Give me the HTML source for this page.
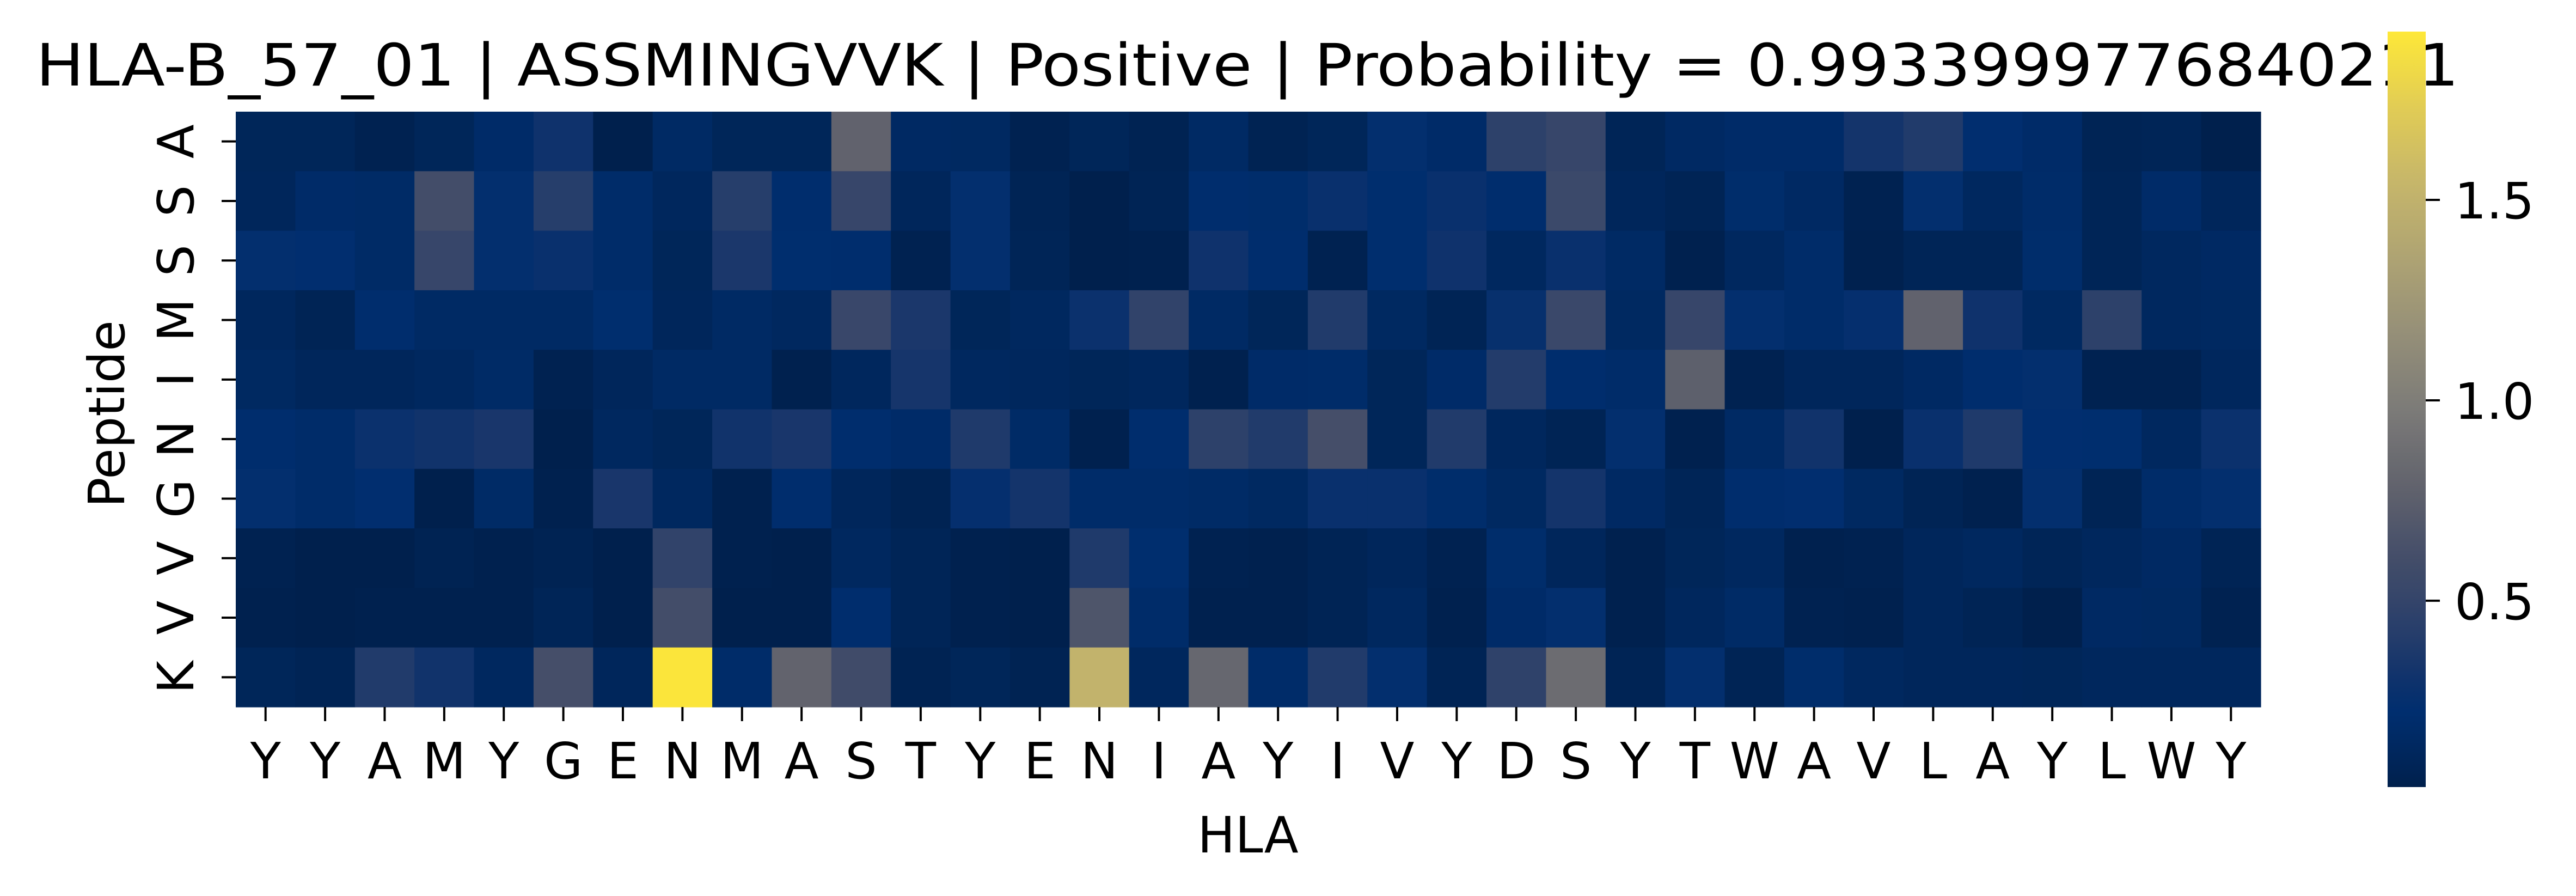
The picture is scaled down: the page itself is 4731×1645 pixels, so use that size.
<!DOCTYPE html>
<html><head><meta charset="utf-8"><style>
html,body{margin:0;padding:0;background:#fff;}
svg{display:block;}
text{font-family:"DejaVu Sans","Liberation Sans",sans-serif;fill:#000;}
</style></head><body>
<svg id="chart" width="4731" height="1645" viewBox="0 0 4731 1645" xmlns="http://www.w3.org/2000/svg">
<defs><linearGradient id="cbgrad" x1="0" y1="1" x2="0" y2="0"></linearGradient></defs>
<text x="2291" y="157" font-size="107" text-anchor="middle" textLength="4450" lengthAdjust="spacingAndGlyphs">HLA-B_57_01 | ASSMINGVVK | Positive | Probability = 0.9933999776840211</text>
<g id="cells"></g>
<g id="xaxis"></g>
<g id="yaxis"></g>
<text x="2292" y="1565" font-size="92" text-anchor="middle">HLA</text>
<text transform="translate(228,760) rotate(-90)" font-size="92" text-anchor="middle">Peptide</text>
<rect x="4385" y="58" width="70" height="1387" fill="url(#cbgrad)"/>
<g id="cbaxis"></g>
</svg>
<script>
const xLabels = ["Y","Y","A","M","Y","G","E","N","M","A","S","T","Y","E","N","I","A","Y","I","V","Y","D","S","Y","T","W","A","V","L","A","Y","L","W","Y"];
const yLabels = ["A","S","S","M","I","N","G","V","V","K"];
const rowA = [0.10,0.10,0.06,0.10,0.18,0.30,0.04,0.16,0.10,0.10,0.78,0.15, 0.14,0.06,0.10,0.07,0.16,0.07,0.10,0.24,0.18,0.46,0.52,0.09, 0.15,0.18,0.18,0.33,0.39,0.23,0.18,0.08,0.09,0.04];
const rowS1 = [0.11,0.18,0.17,0.60,0.24,0.42,0.19,0.12,0.42,0.21,0.52,0.11, 0.24,0.08,0.04,0.08,0.21,0.20,0.27,0.22,0.27,0.21,0.55,0.11, 0.08,0.20,0.15,0.06,0.24,0.13,0.19,0.09,0.18,0.11];
const rowS2 = [0.24,0.23,0.17,0.52,0.24,0.27,0.19,0.10,0.36,0.22,0.21,0.06, 0.24,0.09,0.04,0.05,0.30,0.21,0.06,0.22,0.30,0.13,0.27,0.16, 0.05,0.13,0.19,0.05,0.09,0.09,0.20,0.09,0.13,0.15];
const rowM = [0.12,0.08,0.21,0.16,0.16,0.16,0.22,0.11,0.16,0.13,0.53,0.36, 0.10,0.13,0.28,0.48,0.16,0.10,0.39,0.14,0.08,0.26,0.54,0.14, 0.52,0.24,0.19,0.25,0.78,0.30,0.14,0.46,0.13,0.14];
const rowI = [0.14,0.11,0.11,0.13,0.17,0.06,0.11,0.16,0.16,0.05,0.12,0.34, 0.13,0.12,0.10,0.12,0.05,0.18,0.19,0.10,0.18,0.40,0.21,0.19, 0.76,0.06,0.11,0.11,0.15,0.21,0.24,0.06,0.06,0.12];
const rowN = [0.21,0.19,0.28,0.31,0.35,0.04,0.13,0.10,0.31,0.35,0.21,0.18, 0.38,0.17,0.05,0.21,0.46,0.39,0.61,0.10,0.39,0.12,0.08,0.24, 0.05,0.16,0.31,0.04,0.27,0.38,0.23,0.22,0.13,0.28];
const rowG = [0.24,0.19,0.23,0.04,0.17,0.05,0.35,0.13,0.05,0.21,0.11,0.07, 0.25,0.33,0.19,0.19,0.17,0.14,0.27,0.27,0.20,0.14,0.33,0.15, 0.09,0.21,0.23,0.14,0.08,0.05,0.24,0.08,0.19,0.24];
const rowV1 = [0.06,0.04,0.04,0.07,0.05,0.07,0.04,0.48,0.05,0.04,0.13,0.09, 0.05,0.04,0.38,0.22,0.06,0.05,0.08,0.11,0.06,0.20,0.11,0.05, 0.10,0.13,0.05,0.06,0.11,0.13,0.09,0.12,0.15,0.08];
const rowV2 = [0.05,0.04,0.05,0.05,0.05,0.09,0.04,0.60,0.04,0.04,0.21,0.09, 0.05,0.04,0.67,0.19,0.05,0.05,0.08,0.13,0.05,0.18,0.24,0.05, 0.12,0.17,0.06,0.05,0.11,0.08,0.04,0.15,0.14,0.06];
const rowK = [0.10,0.08,0.39,0.31,0.13,0.61,0.11,1.90,0.19,0.79,0.58,0.07, 0.10,0.07,1.51,0.12,0.82,0.19,0.39,0.24,0.08,0.47,0.86,0.08, 0.24,0.08,0.20,0.13,0.11,0.11,0.10,0.12,0.12,0.12];
const cbTicks = [0.5,1.0,1.5];
const cbTickLabels = ["0.5","1.0","1.5"];

const rows = [rowA,rowS1,rowS2,rowM,rowI,rowN,rowG,rowV1,rowV2,rowK];
const NS = "http://www.w3.org/2000/svg";
const X0=433, X1=4152, Y0=205, Y1=1298;
const VMIN=0.035, VMAX=1.92;
const CBY0=58, CBY1=1445, CBX=4385, CBW=70;
const cw=(X1-X0)/xLabels.length, rh=(Y1-Y0)/yLabels.length;
const xPos = i => X0 + i*cw;
const yPos = j => Y0 + j*rh;
const cbY = v => CBY1 - (v-VMIN)/(VMAX-VMIN)*(CBY1-CBY0);
const anchors = [[0,"#00204c"],[0.05,"#00285f"],[0.1,"#002e6f"],[0.15,"#12336b"],[0.2,"#253d6b"],[0.25,"#35456a"],[0.3,"#434d69"],[0.4,"#62636d"],[0.5,"#7c7b78"],[0.6,"#958f78"],[0.7,"#aea373"],[0.8,"#c6b66a"],[0.9,"#e1cc55"],[1.0,"#fee838"]];
function hex(h){return [parseInt(h.substr(1,2),16),parseInt(h.substr(3,2),16),parseInt(h.substr(5,2),16)];}
function cmap(t){
  t=Math.max(0,Math.min(1,t));
  for(let k=1;k<anchors.length;k++){
    if(t<=anchors[k][0]){
      const a=anchors[k-1],b=anchors[k];const f=(t-a[0])/(b[0]-a[0]);
      const ca=hex(a[1]),cb=hex(b[1]);
      return "rgb("+ca.map((c,i)=>Math.round(c+(cb[i]-c)*f)).join(",")+")";
    }
  }
  return anchors[anchors.length-1][1];
}
const color = v => cmap((v-VMIN)/(VMAX-VMIN));

const cells=document.getElementById("cells");
rows.forEach((row,j)=>row.forEach((v,i)=>{
  const r=document.createElementNS(NS,"rect");
  r.setAttribute("x",xPos(i));r.setAttribute("y",yPos(j));
  r.setAttribute("width",cw+0.6);r.setAttribute("height",rh+0.6);
  r.setAttribute("fill",color(v));
  
  
  cells.appendChild(r);
}));

const xa=document.getElementById("xaxis");
xLabels.forEach((lab,i)=>{
  const cx=xPos(i)+cw/2;
  const l=document.createElementNS(NS,"line");
  l.setAttribute("x1",cx);l.setAttribute("x2",cx);l.setAttribute("y1",Y1);l.setAttribute("y2",Y1+26);
  l.setAttribute("stroke","#000");l.setAttribute("stroke-width","4");
  
  
  xa.appendChild(l);
  const t=document.createElementNS(NS,"text");
  t.setAttribute("x",cx);t.setAttribute("y",1429);t.setAttribute("font-size","92");t.setAttribute("text-anchor","middle");
  t.textContent=lab;
  
  
  xa.appendChild(t);
});
const ya=document.getElementById("yaxis");
yLabels.forEach((lab,j)=>{
  const cy=yPos(j)+rh/2;
  const l=document.createElementNS(NS,"line");
  l.setAttribute("x1",X0-26);l.setAttribute("x2",X0);l.setAttribute("y1",cy);l.setAttribute("y2",cy);
  l.setAttribute("stroke","#000");l.setAttribute("stroke-width","4");
  
  
  ya.appendChild(l);
  const t=document.createElementNS(NS,"text");
  t.setAttribute("transform","translate(355,"+cy+") rotate(-90)");
  t.setAttribute("font-size","92");t.setAttribute("text-anchor","middle");
  t.textContent=lab;
  
  
  ya.appendChild(t);
});
const grad=document.getElementById("cbgrad");
for(let k=0;k<=50;k++){
  const s=document.createElementNS(NS,"stop");
  s.setAttribute("offset",k/50);s.setAttribute("stop-color",cmap(k/50));
  grad.appendChild(s);
}
const ca=document.getElementById("cbaxis");
cbTicks.forEach((v,k)=>{
  const y=cbY(v);
  const l=document.createElementNS(NS,"line");
  l.setAttribute("x1",CBX+CBW);l.setAttribute("x2",CBX+CBW+26);l.setAttribute("y1",y);l.setAttribute("y2",y);
  l.setAttribute("stroke","#000");l.setAttribute("stroke-width","4");
  
  
  ca.appendChild(l);
  const t=document.createElementNS(NS,"text");
  t.setAttribute("x",4508);t.setAttribute("y",y+34);t.setAttribute("font-size","92");
  t.textContent=cbTickLabels[k];
  
  
  ca.appendChild(t);
});
</script>
</body></html>
